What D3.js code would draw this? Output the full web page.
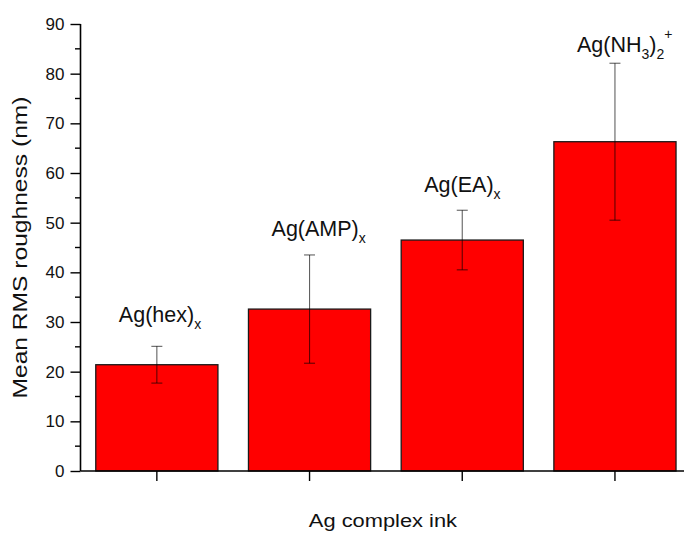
<!DOCTYPE html>
<html>
<head>
<meta charset="utf-8">
<script src="https://cdn.jsdelivr.net/npm/d3@7"></script>
<style>
  html, body { margin: 0; padding: 0; background: #fff; }
  svg { display: block; font-family: Arial, "Liberation Sans", sans-serif; }
</style>
</head>
<body>
<svg id="chart" width="684" height="534"></svg>
<script>
// Ink types and their mean RMS roughness with standard deviation (nm)
const inks = ["hex", "AMP", "EA", "NH3"];
const roughness = [21.4, 32.6, 46.5, 66.3];
const roughnessSD = [3.7, 10.9, 6.0, 15.8];
// Height (nm) at which each ink's name is written above its bar
const labelHeight = [29.9, 47.3, 56.2, 84.4];
const yTicks = [0, 10, 20, 30, 40, 50, 60, 70, 80, 90];

// Each label: list of [text, kind] runs (kind: "n" normal, "sub", "sup")
const inkLabels = [
  [["Ag(hex)", "n"], ["x", "sub"]],
  [["Ag(AMP)", "n"], ["x", "sub"]],
  [["Ag(EA)", "n"], ["x", "sub"]],
  [["Ag(NH", "n"], ["3", "sub"], [")", "n"], ["2", "sub"], ["+", "sup"]]
];

const svg = d3.select("#chart");
const plotLeft = 80.5, plotTop = 24, plotBottom = 471;
const plotRight = 691.3;

const x = d3.scaleBand()
  .domain(inks)
  .range([plotLeft, plotRight])
  .paddingInner(0.2)
  .paddingOuter(0.1);

const y = d3.scaleLinear().domain([0, 90]).range([plotBottom, plotTop]);

// Bars
svg.append("g").selectAll("rect")
  .data(inks)
  .join("rect")
  .attr("x", d => x(d))
  .attr("width", x.bandwidth())
  .attr("y", (d, i) => y(roughness[i]))
  .attr("height", (d, i) => y(0) - y(roughness[i]))
  .attr("fill", "#ff0000")
  .attr("stroke", "#1a1a1a")
  .attr("stroke-width", 1.3);

// Error bars
const capHalf = 5.5;
const err = svg.append("g")
  .attr("stroke", "#000")
  .attr("stroke-opacity", 0.62)
  .attr("stroke-width", 1.1)
  .attr("fill", "none");
inks.forEach((d, i) => {
  const cx = x(d) + x.bandwidth() / 2;
  const hi = y(roughness[i] + roughnessSD[i]);
  const lo = y(roughness[i] - roughnessSD[i]);
  err.append("line").attr("x1", cx).attr("x2", cx).attr("y1", hi).attr("y2", lo);
  err.append("line").attr("x1", cx - capHalf).attr("x2", cx + capHalf).attr("y1", hi).attr("y2", hi);
  err.append("line").attr("x1", cx - capHalf).attr("x2", cx + capHalf).attr("y1", lo).attr("y2", lo);
});

// Y axis with major and minor ticks
const yAxis = d3.axisLeft(y).tickValues(yTicks).tickSize(10).tickPadding(6).tickSizeOuter(0);
const gy = svg.append("g").attr("transform", `translate(${plotLeft},0)`).call(yAxis);
gy.select(".domain").attr("stroke", "#000").attr("stroke-width", 1.6)
  .attr("d", `M0,${plotBottom}V${plotTop}`);
gy.selectAll(".tick line").attr("stroke", "#000").attr("stroke-width", 1.4);
gy.selectAll(".tick text").attr("font-size", 17).attr("fill", "#111")
  .attr("font-family", "Arial, 'Liberation Sans', sans-serif");
const minor = d3.range(5, 90, 10);
svg.append("g").selectAll("line").data(minor).join("line")
  .attr("x1", plotLeft - 5.5).attr("x2", plotLeft)
  .attr("y1", d => y(d)).attr("y2", d => y(d))
  .attr("stroke", "#000").attr("stroke-width", 1.4);

// X axis: baseline with outward ticks at bar centres, no tick labels
const xAxis = d3.axisBottom(x).tickSize(10).tickFormat("").tickSizeOuter(0);
const gx = svg.append("g").attr("transform", `translate(0,${plotBottom})`).call(xAxis);
gx.select(".domain").attr("stroke", "#000").attr("stroke-width", 1.6)
  .attr("d", `M${plotLeft},0H${plotRight}`);
gx.selectAll(".tick line").attr("stroke", "#000").attr("stroke-width", 1.4);

// Ink names above the bars
inkLabels.forEach((runs, i) => {
  const cx = x(inks[i]) + x.bandwidth() / 2;
  const t = svg.append("text")
    .attr("x", cx - 38)
    .attr("y", y(labelHeight[i]))
    .attr("font-size", 21.5)
    .attr("fill", "#111");
  let shift = 0;
  runs.forEach(([txt, kind]) => {
    const target = kind === "sub" ? 7 : kind === "sup" ? -13 : 0;
    t.append("tspan")
      .attr("dy", target - shift)
      .attr("font-size", kind === "n" ? 21.5 : 14)
      .text(txt);
    shift = target;
  });
});

// Axis titles
const midX = (plotLeft + plotRight) / 2 - 3;
svg.append("text")
  .attr("transform", `translate(${midX},527) scale(1.15,1)`)
  .attr("text-anchor", "middle")
  .attr("font-size", 19)
  .attr("fill", "#111")
  .text("Ag complex ink");

svg.append("text")
  .attr("transform", `translate(27,${(plotTop + plotBottom) / 2}) rotate(-90) scale(1.23,1)`)
  .attr("text-anchor", "middle")
  .attr("font-size", 20)
  .attr("fill", "#111")
  .text("Mean RMS roughness (nm)");
</script>
</body>
</html>
